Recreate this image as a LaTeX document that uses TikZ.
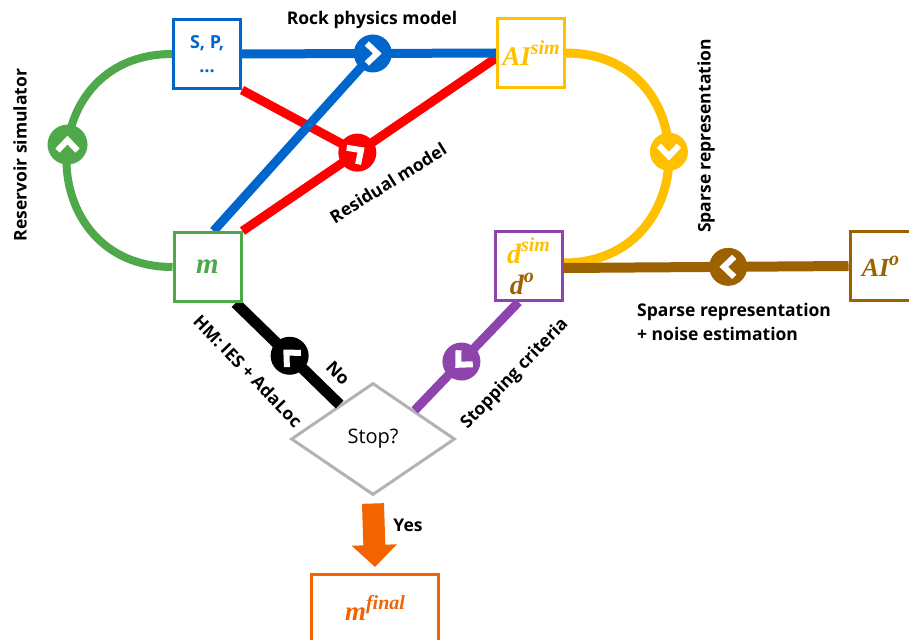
\documentclass[tikz,border=0pt]{standalone}
\usepackage{fontspec}
\setmainfont{Open Sans}
\newfontfamily\mfont{Liberation Serif}
\usetikzlibrary{shapes.geometric,arrows.meta,calc}
\definecolor{cblue}{HTML}{0066CC}
\definecolor{cred}{HTML}{FF0000}
\definecolor{cgreen}{HTML}{4FA84A}
\definecolor{cyell}{HTML}{FFC000}
\definecolor{cpurp}{HTML}{8E44AD}
\definecolor{cbrown}{HTML}{9C6200}
\definecolor{corng}{HTML}{F36300}
\definecolor{cgray}{HTML}{B3B3B3}
\newcommand{\mychev}[2]{\begin{scope}[shift={(#1)},rotate=#2]\draw[chev](-6,-10)--(4.5,0)--(-6,10);\end{scope}}
\newcommand{\mth}[1]{{\mfont\bfseries\itshape #1}}
\newcommand{\msup}[1]{\raisebox{0.42em}{\fontsize{20}{22}\selectfont\mth{#1}}}
\begin{document}
\begin{tikzpicture}[x=1pt,y=-1pt,
  box/.style={draw=#1, line width=3pt, fill=white, minimum width=67pt, minimum height=69pt, inner sep=0pt, align=center},
  conn/.style={line width=9pt, draw=#1},
  dot/.style={circle, fill=#1, minimum size=38pt, inner sep=0pt},
  chev/.style={draw=white, line width=6pt, miter limit=10},
  lbl/.style={font=\bfseries\fontsize{17.5}{20}\selectfont, inner sep=0pt}]
\useasboundingbox (0,0) rectangle (909,639);
\clip (0,0) rectangle (909,639);
\path (207,54) coordinate (spc) (531,53) coordinate (aic) (207.5,267) coordinate (mc)
      (528.5,266) coordinate (dc) (883.5,266) coordinate (aioc) (375,609) coordinate (finc);
\node[box=cblue, draw=none, fill=none] (sp) at (spc) {};
\node[box=cyell, draw=none, fill=none] (ai) at (aic) {};
\node[box=cgreen, draw=none, fill=none] (m) at (mc) {};
\node[box=cpurp, draw=none, fill=none] (d) at (dc) {};
\node[box=cbrown, draw=none, fill=none] (aio) at (aioc) {};
\node[diamond, draw=cgray, line width=3pt, fill=white, minimum width=164pt, minimum height=112pt, inner sep=0pt, font=\fontsize{20}{24}\selectfont] (stop) at (373,439) {Stop?};
\node[box=corng, draw=none, fill=none, minimum width=127pt, minimum height=69pt] (fin) at (finc) {};
% connectors
\draw[conn=cgreen, line width=8pt] (sp.west) .. controls ($(sp.west)+(-141,0)$) and ($(m.west)+(-141,0)$) .. (m.west)
  node[dot=cgreen, minimum size=40pt, pos=0.45] (cg) {};
\draw[conn=cyell] (ai.east) .. controls ($(ai.east)+(139,0)$) and ($([yshift=3]d.east)+(139,0)$) .. ([yshift=3]d.east)
  node[dot=cyell, pos=0.48] (cy) {};
\draw[conn=cred] (sp.south east) -- (357,152);
\draw[conn=cred] (m.north east) -- ([yshift=-5]ai.west) node[dot=cred, pos=0.453] (cr) {};
\draw[conn=cblue] ([xshift=6]m.north) -- (373,54);
\draw[conn=cblue] (sp.east) -- (ai.west) node[dot=cblue, pos=0.515] (cb) {};
\draw[conn=cbrown, line width=10pt] ([yshift=-2]d.east) -- (aio.west) node[dot=cbrown, pos=0.578] (cw) {};
\draw[conn=black, line width=11pt] ([xshift=-7]m.south east) -- ($(stop.north)!0.4!(stop.west)$) node[dot=black, pos=0.52] (ck) {};
\draw[conn=cpurp] ([xshift=-10]d.south) -- ($(stop.north)!0.5!(stop.east)$) node[dot=cpurp, pos=0.55] (cp) {};
\draw[corng, line width=22pt, -{Triangle[width=44pt,length=22pt]}] ([yshift=-7]stop.south) -- ([yshift=6]fin.north);
% chevrons
\mychev{cb}{0}
\mychev{cg}{90}
\mychev{cy}{-90}
\mychev{cw}{180}
\mychev{cr}{34.6}
\mychev{ck}{135.5}
\mychev{cp}{-134.5}
% boxes drawn on top
\node[box=cblue, text=cblue, font=\bfseries\fontsize{18}{24}\selectfont] at (spc) {S, P,\\…};
\node[box=cyell, text=cyell, font=\fontsize{27}{28}\selectfont] at (aic) {\mth{AI}\msup{sim}};
\node[box=cgreen, text=cgreen, font=\fontsize{29}{30}\selectfont] at (mc) {\mth{m}};
\node[box=cpurp, font=\fontsize{28}{31}\selectfont] at (dc) {\textcolor{cyell}{\mth{d}\msup{sim}}\\\textcolor{cbrown}{\mth{d}\msup{o}}\phantom{\msup{si}}};
\node[box=cbrown, text=cbrown, font=\fontsize{26}{26}\selectfont] at (aioc) {\mth{AI}\msup{o}\hspace*{6pt}};
\node[box=corng, text=corng, minimum width=127pt, font=\fontsize{27}{28}\selectfont] at (finc) {\raisebox{2pt}{\mth{m}\msup{final}}};
% labels
\node[lbl] (t1) at (372,20) {Rock physics model};
\node[lbl, rotate=90] (t2) at (20,155) {Reservoir simulator};
\node[lbl, rotate=32] (t3) at (388,183) {Residual model};
\node[lbl, rotate=90] (t4) at (706,136) {Sparse representation};
\node[lbl, anchor=base west, align=left, font=\bfseries\fontsize{17.5}{24}\selectfont] (t5) at (637,340) {Sparse representation\\+ noise estimation};
\node[lbl, rotate=-46] (t6) at (248,371) {HM: IES + AdaLoc};
\node[lbl, rotate=-46] (t7) at (338,373) {No};
\node[lbl, rotate=46] (t8) at (515,374) {Stopping criteria};
\node[lbl] (t9) at (408,525) {Yes};
\end{tikzpicture}
\end{document}
